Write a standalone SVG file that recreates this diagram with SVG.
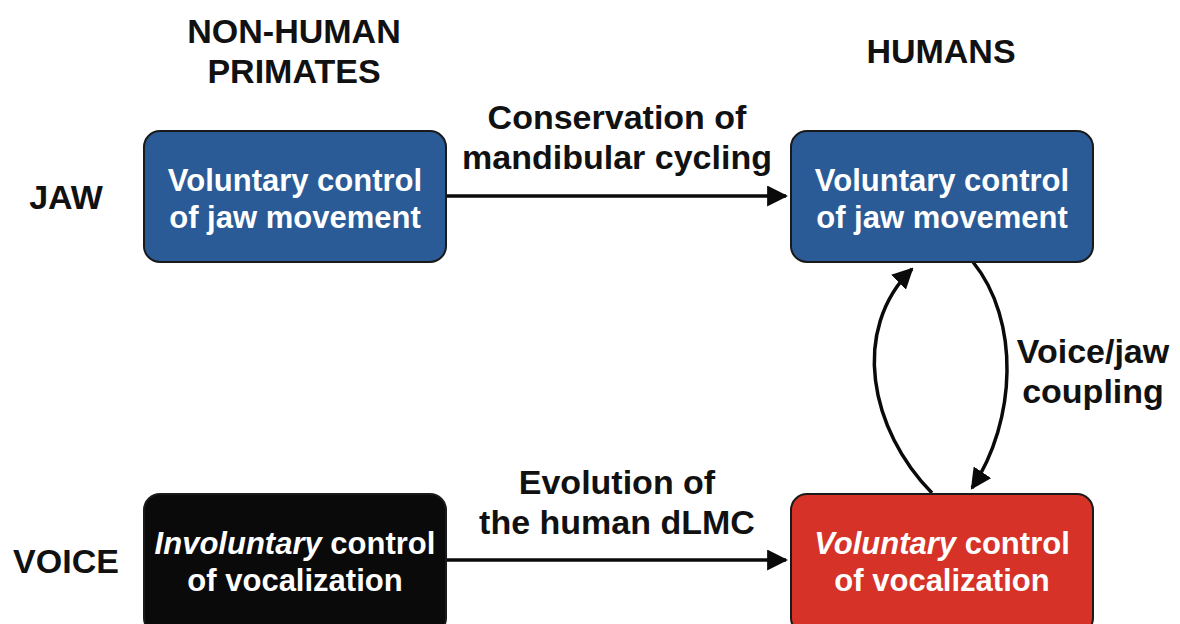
<svg xmlns="http://www.w3.org/2000/svg" width="1180" height="624" viewBox="0 0 1180 624">
<defs>
<style>
text{font-family:"Liberation Sans",Arial,sans-serif;font-weight:bold;text-anchor:middle}
.h{font-size:34px;fill:#111}
.b{font-size:31px;fill:#fff}
.l{font-size:34px;fill:#111}
.box{stroke:#1a1a1a;stroke-width:2}
.c{fill:none;stroke:#0a0a0a;stroke-width:3.5}
</style>
<marker id="ah" viewBox="0 0 10 10" refX="9" refY="5" markerWidth="6" markerHeight="6" orient="auto" markerUnits="strokeWidth">
<path d="M0,0 L10,5 L0,10 Z" fill="#0a0a0a"/>
</marker>
</defs>
<rect width="1180" height="624" fill="#fff"/>
<g id="headers">
<text class="h" x="294" y="43">NON-HUMAN</text>
<text class="h" x="294" y="83">PRIMATES</text>
<text class="h" x="941" y="63">HUMANS</text>
<text class="h" x="66" y="209">JAW</text>
<text class="h" x="66" y="573">VOICE</text>
</g>
<g id="connectors">
<line class="c" x1="446" y1="196" x2="786" y2="196" marker-end="url(#ah)"/>
<line class="c" x1="446" y1="560" x2="786" y2="560" marker-end="url(#ah)"/>
<path class="c" d="M932,493 C870,430 850,330 912,269" marker-end="url(#ah)"/>
<path class="c" d="M973,262 C1020,320 1017,420 972,488" marker-end="url(#ah)"/>
<text class="l" x="617" y="129">Conservation of</text>
<text class="l" x="617" y="169">mandibular cycling</text>
<text class="l" x="617" y="494">Evolution of</text>
<text class="l" x="617" y="534">the human dLMC</text>
<text class="l" x="1093" y="363">Voice/jaw</text>
<text class="l" x="1093" y="403">coupling</text>
</g>
<g id="nhp-jaw">
<rect class="box" x="144" y="131" width="302" height="131" rx="16" fill="#2a5b97"/>
<text class="b" x="295" y="191">Voluntary control</text>
<text class="b" x="295" y="228">of jaw movement</text>
</g>
<g id="human-jaw">
<rect class="box" x="791" y="131" width="302" height="131" rx="16" fill="#2a5b97"/>
<text class="b" x="942" y="191">Voluntary control</text>
<text class="b" x="942" y="228">of jaw movement</text>
</g>
<g id="nhp-voice">
<rect class="box" x="144" y="494" width="302" height="140" rx="16" fill="#0a0a0a"/>
<text class="b" x="295" y="554"><tspan font-style="italic">Involuntary</tspan> control</text>
<text class="b" x="295" y="591">of vocalization</text>
</g>
<g id="human-voice">
<rect class="box" x="791" y="494" width="302" height="140" rx="16" fill="#d63228"/>
<text class="b" x="942" y="554"><tspan font-style="italic">Voluntary</tspan> control</text>
<text class="b" x="942" y="591">of vocalization</text>
</g>
</svg>
